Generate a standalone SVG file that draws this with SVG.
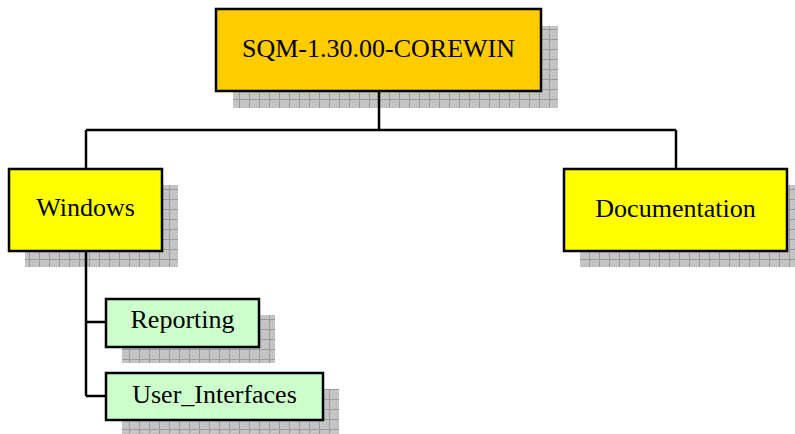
<svg xmlns="http://www.w3.org/2000/svg" width="795" height="434" viewBox="0 0 795 434">
<defs>
<pattern id="shade" x="0" y="0" width="10" height="10" patternUnits="userSpaceOnUse">
<rect width="10" height="10" fill="#c6c6c6"/>
<rect x="0" y="0" width="1" height="1" fill="#b4b4b4"/>
<rect x="2" y="2" width="1" height="1" fill="#b4b4b4"/>
<rect x="4" y="4" width="1" height="1" fill="#b4b4b4"/>
<rect x="6" y="6" width="1" height="1" fill="#b4b4b4"/>
<rect x="2" y="6" width="1" height="1" fill="#b4b4b4"/>
<rect x="6" y="2" width="1" height="1" fill="#b4b4b4"/>
<rect x="4" y="8" width="1" height="1" fill="#b4b4b4"/>
<rect x="8" y="4" width="1" height="1" fill="#b4b4b4"/>
<rect x="9" y="0" width="1" height="10" fill="#9a9a9a"/>
<rect x="0" y="9" width="10" height="1" fill="#9a9a9a"/>
</pattern>
</defs>
<style>
.shadow{fill:url(#shade);stroke:none}
.box{stroke:#000;stroke-width:2.5}
.root{fill:#ffcc00}
.yel{fill:#ffff00}
.grn{fill:#ccffcc}
text{font-family:"Liberation Serif","Times New Roman",serif;font-size:26px;fill:#000;text-anchor:middle}
.conn{stroke:#000;stroke-width:2.5;fill:none}
</style>
<g id="node-root">
<rect class="shadow" x="233" y="26" width="325" height="82"/>
<rect class="box root" x="216" y="9" width="325" height="82"/>
<text x="378.5" y="57">SQM-1.30.00-COREWIN</text>
</g>
<g id="node-windows">
<rect class="shadow" x="25" y="185" width="153" height="82"/>
<rect class="box yel" x="9" y="169" width="153" height="82"/>
<text x="85.5" y="216">Windows</text>
</g>
<g id="node-documentation">
<rect class="shadow" x="580" y="185" width="223" height="82"/>
<rect class="box yel" x="564" y="169" width="223" height="82"/>
<text x="675.5" y="217">Documentation</text>
</g>
<g id="node-reporting">
<rect class="shadow" x="122" y="315" width="153" height="48"/>
<rect class="box grn" x="106" y="299" width="153" height="48"/>
<text x="182.5" y="328">Reporting</text>
</g>
<g id="node-user-interfaces">
<rect class="shadow" x="122" y="389" width="217" height="47"/>
<rect class="box grn" x="106" y="373" width="217" height="47"/>
<text x="214.5" y="403">User_Interfaces</text>
</g>
<g id="connectors">
<path class="conn" d="M379 91V130M86 130H676M86 130V169M676 130V169"/>
<path class="conn" d="M86 251V396M86 322H106M86 396H106"/>
</g>
</svg>
